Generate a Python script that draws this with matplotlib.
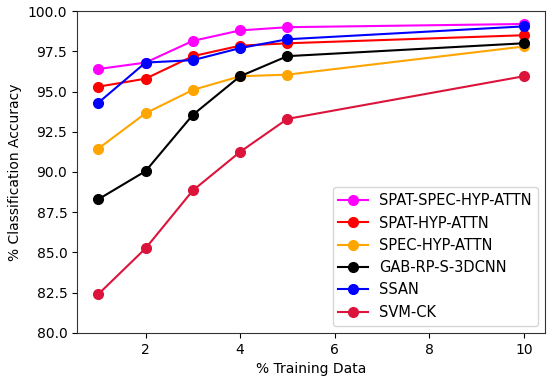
import matplotlib
matplotlib.use('Agg')
import matplotlib.pyplot as plt

# training data percentages
x = [1, 2, 3, 4, 5, 10]

# accuracy per method
spat_spec = [96.4, 96.8, 98.15, 98.8, 99.0, 99.2]
spat_hyp = [95.3, 95.8, 97.2, 97.85, 98.0, 98.5]
spec_hyp = [91.45, 93.65, 95.1, 95.95, 96.05, 97.8]
gab_rp = [88.3, 90.05, 93.55, 95.95, 97.2, 98.0]
ssan = [94.3, 96.8, 96.95, 97.7, 98.25, 99.05]
svm_ck = [82.4, 85.25, 88.85, 91.25, 93.3, 95.95]

labels = ['SPAT-SPEC-HYP-ATTN', 'SPAT-HYP-ATTN', 'SPEC-HYP-ATTN',
          'GAB-RP-S-3DCNN', 'SSAN', 'SVM-CK']
colors = ['magenta', 'red', 'orange', 'black', 'blue', 'crimson']
series = [spat_spec, spat_hyp, spec_hyp, gab_rp, ssan, svm_ck]

fig = plt.figure(figsize=(5.5, 3.83), dpi=100)
ax = fig.add_axes([0.140, 0.131, 0.851, 0.840])

for y, lab, c in zip(series, labels, colors):
    ax.plot(x, y, color=c, marker='o', markersize=7, linewidth=1.5, label=lab)

ax.set_ylim(80, 100)
ax.set_yticks([80, 82.5, 85, 87.5, 90, 92.5, 95, 97.5, 100])
ax.set_yticklabels(['80.0', '82.5', '85.0', '87.5', '90.0', '92.5', '95.0', '97.5', '100.0'])
ax.set_xticks([2, 4, 6, 8, 10])
ax.set_xlim(0.55, 10.45)

for s in ax.spines.values():
    s.set_color('#333333')

ax.set_xlabel('% Training Data')
ax.set_ylabel('% Classification Accuracy')
ax.legend(loc='lower right', fontsize=10.5)

fig.savefig('out.png')
